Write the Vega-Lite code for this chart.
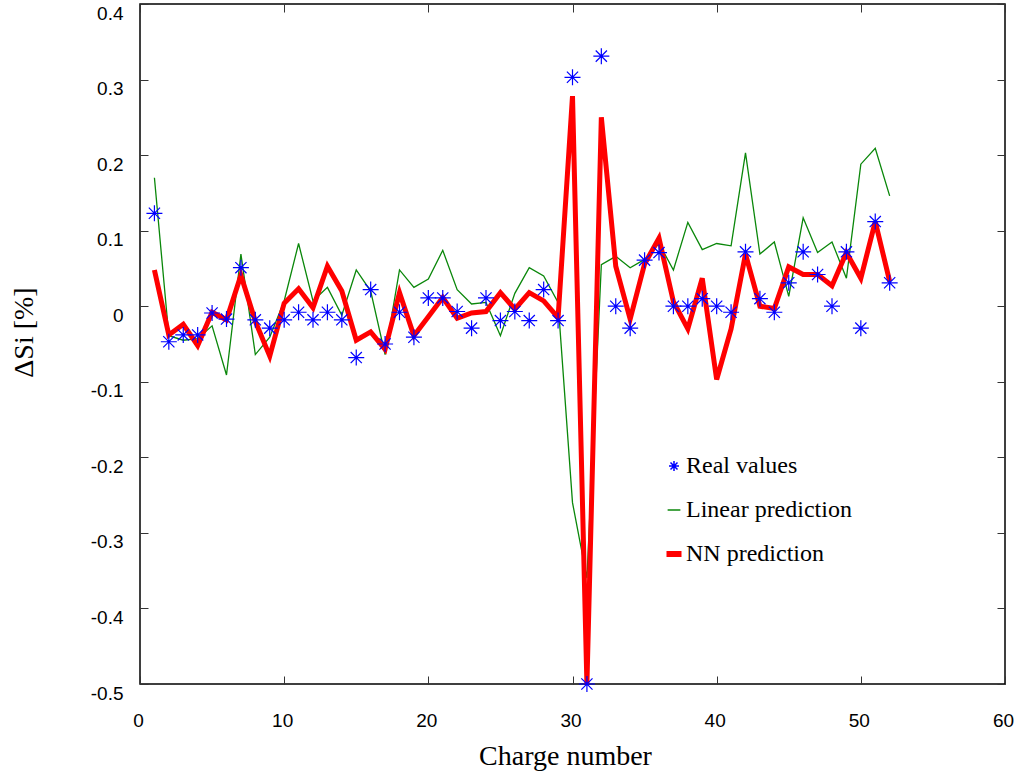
{
  "$schema": "https://vega.github.io/schema/vega-lite/v6.json",
  "width": 865,
  "height": 680,
  "autosize": "none",
  "padding": {"left": 140, "top": 4, "right": 10, "bottom": 87},
  "background": "white",
  "config": {
    "view": {"stroke": "#000000", "strokeWidth": 1.5},
    "axis": {
      "grid": false,
      "domain": false,
      "tickColor": "#333333",
      "tickWidth": 1,
      "tickSize": -8,
      "labelFlush": false,
      "labelOverlap": false,
      "labelFont": "Liberation Sans",
      "labelFontSize": 19,
      "labelColor": "#000000",
      "titleFont": "Liberation Serif",
      "titleFontSize": 28,
      "titleFontWeight": "normal",
      "titleColor": "#000000"
    },
    "legend": {
      "orient": "none",
      "legendX": 522,
      "legendY": 450,
      "rowPadding": 20,
      "labelFont": "Liberation Serif",
      "labelFontSize": 24,
      "labelColor": "#000000",
      "labelOffset": 0,
      "labelLimit": 400,
      "symbolOpacity": 1,
      "symbolFillColor": "transparent"
    }
  },
  "data": {
    "values": [
      {"n": 1, "real": 0.123, "linear": 0.170, "nn": 0.048},
      {"n": 2, "real": -0.047, "linear": -0.039, "nn": -0.038},
      {"n": 3, "real": -0.038, "linear": -0.045, "nn": -0.024},
      {"n": 4, "real": -0.038, "linear": -0.043, "nn": -0.052},
      {"n": 5, "real": -0.009, "linear": -0.026, "nn": -0.008},
      {"n": 6, "real": -0.017, "linear": -0.091, "nn": -0.018},
      {"n": 7, "real": 0.051, "linear": 0.069, "nn": 0.041},
      {"n": 8, "real": -0.018, "linear": -0.064, "nn": -0.020},
      {"n": 9, "real": -0.029, "linear": -0.041, "nn": -0.066},
      {"n": 10, "real": -0.018, "linear": 0.007, "nn": 0.004},
      {"n": 11, "real": -0.008, "linear": 0.083, "nn": 0.023},
      {"n": 12, "real": -0.018, "linear": 0.007, "nn": -0.002},
      {"n": 13, "real": -0.008, "linear": 0.025, "nn": 0.053},
      {"n": 14, "real": -0.018, "linear": -0.012, "nn": 0.020},
      {"n": 15, "real": -0.068, "linear": 0.048, "nn": -0.045},
      {"n": 16, "real": 0.022, "linear": 0.020, "nn": -0.034},
      {"n": 17, "real": -0.050, "linear": -0.064, "nn": -0.057},
      {"n": 18, "real": -0.008, "linear": 0.048, "nn": 0.018},
      {"n": 19, "real": -0.041, "linear": 0.025, "nn": -0.039},
      {"n": 20, "real": 0.011, "linear": 0.036, "nn": -0.014},
      {"n": 21, "real": 0.011, "linear": 0.074, "nn": 0.0115},
      {"n": 22, "real": -0.007, "linear": 0.022, "nn": -0.016},
      {"n": 23, "real": -0.029, "linear": 0.003, "nn": -0.009},
      {"n": 24, "real": 0.011, "linear": 0.005, "nn": -0.007},
      {"n": 25, "real": -0.019, "linear": -0.039, "nn": 0.018},
      {"n": 26, "real": -0.007, "linear": 0.017, "nn": -0.004},
      {"n": 27, "real": -0.019, "linear": 0.051, "nn": 0.018},
      {"n": 28, "real": 0.022, "linear": 0.040, "nn": 0.007},
      {"n": 29, "real": -0.019, "linear": 0.005, "nn": -0.015},
      {"n": 30, "real": 0.303, "linear": -0.26, "nn": 0.278},
      {"n": 31, "real": -0.5, "linear": -0.36, "nn": -0.5},
      {"n": 32, "real": 0.331, "linear": 0.055, "nn": 0.250},
      {"n": 33, "real": 0.0, "linear": 0.066, "nn": 0.053},
      {"n": 34, "real": -0.029, "linear": 0.051, "nn": -0.017},
      {"n": 35, "real": 0.061, "linear": 0.062, "nn": 0.056},
      {"n": 36, "real": 0.071, "linear": 0.083, "nn": 0.090},
      {"n": 37, "real": 0.0, "linear": 0.048, "nn": 0.006},
      {"n": 38, "real": 0.0, "linear": 0.111, "nn": -0.030},
      {"n": 39, "real": 0.010, "linear": 0.075, "nn": 0.037},
      {"n": 40, "real": 0.0, "linear": 0.083, "nn": -0.097},
      {"n": 41, "real": -0.008, "linear": 0.080, "nn": -0.030},
      {"n": 42, "real": 0.072, "linear": 0.203, "nn": 0.069},
      {"n": 43, "real": 0.010, "linear": 0.069, "nn": 0.0},
      {"n": 44, "real": -0.008, "linear": 0.085, "nn": -0.003},
      {"n": 45, "real": 0.031, "linear": 0.013, "nn": 0.052},
      {"n": 46, "real": 0.072, "linear": 0.117, "nn": 0.042},
      {"n": 47, "real": 0.042, "linear": 0.071, "nn": 0.042},
      {"n": 48, "real": 0.0, "linear": 0.085, "nn": 0.027},
      {"n": 49, "real": 0.072, "linear": 0.037, "nn": 0.071},
      {"n": 50, "real": -0.029, "linear": 0.188, "nn": 0.037},
      {"n": 51, "real": 0.112, "linear": 0.209, "nn": 0.112},
      {"n": 52, "real": 0.031, "linear": 0.146, "nn": 0.033}
    ]
  },
  "transform": [{"fold": ["real", "linear", "nn"], "as": ["series", "value"]}],
  "layer": [
    {
      "transform": [{"filter": "datum.series === 'linear'"}],
      "mark": {"type": "line", "stroke": "#0a870a", "strokeWidth": 1.3},
      "encoding": {
        "x": {
          "field": "n", "type": "quantitative",
          "scale": {"domain": [0, 60], "nice": false, "zero": false},
          "axis": {"orient": "bottom", "values": [0, 10, 20, 30, 40, 50, 60], "title": "Charge number", "labelPadding": 35, "labelOffset": -2, "titleX": 425, "titleY": 80, "titleBaseline": "alphabetic", "titleAnchor": "middle"}
        },
        "y": {
          "field": "value", "type": "quantitative",
          "scale": {"domain": [-0.5, 0.4], "nice": false, "zero": false},
          "axis": {"orient": "left", "values": [-0.5, -0.4, -0.3, -0.2, -0.1, 0, 0.1, 0.2, 0.3, 0.4], "labelExpr": "toString(round(datum.value*10)/10)", "title": "ΔSi [%]", "labelPadding": 25, "labelOffset": 9, "titleX": -108, "titleY": 328, "titleBaseline": "alphabetic", "titleAnchor": "middle"}
        }
      }
    },
    {
      "transform": [{"filter": "datum.series === 'nn'"}],
      "mark": {"type": "line", "stroke": "#ff0000", "strokeWidth": 5, "strokeJoin": "miter"},
      "encoding": {
        "x": {
          "field": "n", "type": "quantitative",
          "axis": {"orient": "top", "values": [0, 10, 20, 30, 40, 50, 60], "labels": false, "title": null}
        },
        "y": {
          "field": "value", "type": "quantitative",
          "axis": {"orient": "right", "values": [-0.5, -0.4, -0.3, -0.2, -0.1, 0, 0.1, 0.2, 0.3, 0.4], "labels": false, "title": null}
        }
      }
    },
    {
      "transform": [{"filter": "datum.series === 'real'"}],
      "mark": {
        "type": "point",
        "shape": "M-1,0L1,0M0,-1L0,1M-0.7,-0.7L0.7,0.7M-0.7,0.7L0.7,-0.7",
        "filled": false,
        "size": 256,
        "stroke": "#0000ff",
        "strokeWidth": 1.2,
        "opacity": 1
      },
      "encoding": {
        "x": {"field": "n", "type": "quantitative", "axis": null},
        "y": {"field": "value", "type": "quantitative", "axis": null}
      }
    },
    {
      "transform": [{"filter": "datum.n === 1"}],
      "mark": {"type": "point", "filled": false, "opacity": 0},
      "encoding": {
        "x": {"field": "n", "type": "quantitative", "axis": null},
        "y": {"field": "value", "type": "quantitative", "axis": null},
        "color": {
          "field": "series", "type": "nominal",
          "scale": {"domain": ["real", "linear", "nn"], "range": ["#0000ff", "#0a870a", "#ff0000"]},
          "legend": {"title": null, "labelExpr": "datum.value === 'real' ? 'Real values' : datum.value === 'linear' ? 'Linear prediction' : 'NN prediction'"}
        },
        "shape": {
          "field": "series", "type": "nominal",
          "scale": {"domain": ["real", "linear", "nn"], "range": ["M-1,0L1,0M0,-1L0,1M-0.7,-0.7L0.7,0.7M-0.7,0.7L0.7,-0.7", "stroke", "M-1,-0.3L1,-0.3M-1,-0.15L1,-0.15M-1,0L1,0M-1,0.15L1,0.15M-1,0.3L1,0.3"]},
          "legend": {"title": null, "labelExpr": "datum.value === 'real' ? 'Real values' : datum.value === 'linear' ? 'Linear prediction' : 'NN prediction'"}
        },
        "size": {
          "field": "series", "type": "nominal",
          "scale": {"domain": ["real", "linear", "nn"], "range": [100, 225, 196]},
          "legend": {"title": null, "labelExpr": "datum.value === 'real' ? 'Real values' : datum.value === 'linear' ? 'Linear prediction' : 'NN prediction'"}
        }
      }
    }
  ],
  "resolve": {"axis": {"x": "independent", "y": "independent"}}
}
